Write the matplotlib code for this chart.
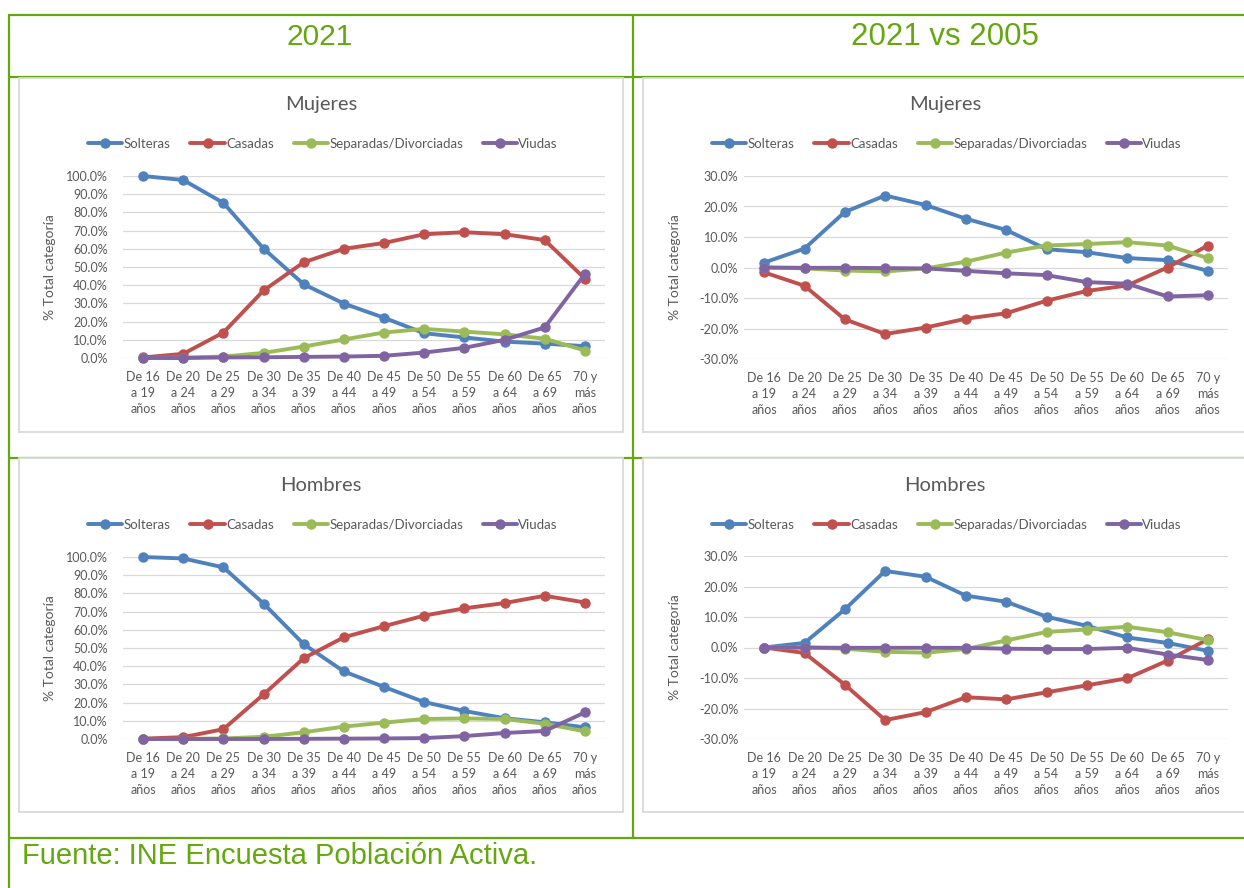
import matplotlib
matplotlib.use("Agg")
import matplotlib.pyplot as plt
from matplotlib.lines import Line2D
from matplotlib.patches import Rectangle
from matplotlib.ticker import FuncFormatter

# age groups (x axis)
edades = ["De 16\na 19\naños", "De 20\na 24\naños", "De 25\na 29\naños", "De 30\na 34\naños",
          "De 35\na 39\naños", "De 40\na 44\naños", "De 45\na 49\naños", "De 50\na 54\naños",
          "De 55\na 59\naños", "De 60\na 64\naños", "De 65\na 69\naños", "70 y\nmás\naños"]
series = ["Solteras", "Casadas", "Separadas/Divorciadas", "Viudas"]

# Mujeres 2021 (% del total de la categoría)
muj_solteras = [100.0, 97.8, 85.2, 60.1, 40.5, 29.9, 22.1, 13.6, 11.3, 9.0, 7.9, 6.5]
muj_casadas = [0.3, 2.3, 14.0, 37.1, 52.6, 60.0, 63.2, 68.0, 69.1, 68.0, 64.8, 43.6]
muj_separadas = [0.0, 0.2, 0.8, 2.8, 6.3, 10.2, 14.0, 16.0, 14.5, 13.0, 10.6, 4.1]
muj_viudas = [0.0, 0.0, 0.3, 0.4, 0.6, 0.8, 1.2, 3.0, 5.6, 10.0, 16.8, 46.2]

# Mujeres 2021 vs 2005 (diferencia en puntos)
muj_dif_solteras = [1.6, 6.2, 18.2, 23.6, 20.5, 16.0, 12.3, 6.0, 5.0, 3.1, 2.4, -1.1]
muj_dif_casadas = [-1.6, -6.0, -17.0, -21.8, -19.7, -16.8, -15.0, -10.9, -7.7, -5.9, 0.0, 7.2]
muj_dif_separadas = [0.0, -0.3, -1.0, -1.3, -0.3, 1.9, 4.9, 7.2, 7.7, 8.3, 7.2, 3.1]
muj_dif_viudas = [0.0, -0.1, -0.1, -0.2, -0.3, -1.1, -1.9, -2.5, -4.8, -5.3, -9.5, -9.1]

# Hombres 2021
hom_solteros = [100.0, 99.2, 94.3, 74.4, 52.1, 37.1, 28.6, 20.3, 15.4, 11.4, 9.2, 6.4]
hom_casados = [0.2, 1.0, 5.4, 24.5, 44.4, 55.9, 62.0, 67.8, 71.8, 74.7, 78.7, 75.0]
hom_separados = [0.0, 0.1, 0.3, 1.2, 3.7, 6.8, 9.0, 11.0, 11.3, 11.0, 8.4, 4.2]
hom_viudos = [0.0, 0.0, 0.0, 0.0, 0.1, 0.2, 0.3, 0.5, 1.6, 3.3, 4.4, 14.6]

# Hombres 2021 vs 2005
hom_dif_solteros = [0.0, 1.5, 12.5, 25.1, 23.2, 17.0, 15.0, 10.1, 7.1, 3.3, 1.5, -1.1]
hom_dif_casados = [0.0, -1.8, -12.2, -23.8, -21.2, -16.3, -17.0, -14.7, -12.4, -10.1, -4.3, 2.7]
hom_dif_separados = [0.0, 0.0, -0.4, -1.4, -1.7, -0.5, 2.3, 5.1, 5.9, 6.8, 5.0, 2.4]
hom_dif_viudos = [0.0, 0.0, -0.1, -0.1, -0.1, -0.1, -0.4, -0.5, -0.5, -0.1, -2.3, -4.1]

colores = ["#4F81BD", "#C0504D", "#9BBB59", "#8064A2"]
verde = "#64A70F"
gris_txt = "#595959"
gris_lin = "#D9D9D9"
fuente = "Lato"

W, H = 1244, 888
fig = plt.figure(figsize=(W / 100, H / 100), dpi=100)


def fx(x):
    return x / W


def fy(y):
    return 1 - y / H


def linea(x0, y0, x1, y1, color, lw, z=1):
    fig.add_artist(Line2D([fx(x0), fx(x1)], [fy(y0), fy(y1)], transform=fig.transFigure,
                          color=color, lw=lw, zorder=z, solid_capstyle="butt"))


# table borders (green)
linea(8, 15, 1260, 15, verde, 1.6)
linea(8, 77, 1260, 77, verde, 1.6)
linea(8, 457.5, 1260, 457.5, verde, 1.6)
linea(8, 838, 1260, 838, verde, 1.6)
linea(8.5, 15, 8.5, 888, verde, 1.6)
linea(633, 15, 633, 838, verde, 1.6)

# chart boxes
for (x0, y0, x1, y1) in [(19, 78, 623, 432), (643, 78, 1250, 432),
                         (19, 458, 623, 812), (643, 458, 1250, 812)]:
    fig.add_artist(Rectangle((fx(x0), fy(y1)), fx(x1 - x0), (y1 - y0) / H,
                             transform=fig.transFigure, facecolor="white",
                             edgecolor=gris_lin, lw=1.3, zorder=2))

fig.text(fx(320), fy(45), "2021", ha="center", va="baseline", color=verde,
         fontsize=21.5, family="Liberation Sans")
fig.text(fx(945), fy(45), "2021 vs 2005", ha="center", va="baseline", color=verde,
         fontsize=22.5, family="Liberation Sans")
fig.text(fx(22), fy(864), "Fuente: INE Encuesta Población Activa.", ha="left",
         va="baseline", color=verde, fontsize=21, family="Liberation Sans")


def panel(rect, datos, ymin, ymax, titulo, cx, title_y, ylab_x, tick_pad):
    x0, y0, x1, y1 = rect
    ax = fig.add_axes([fx(x0), fy(y1), fx(x1 - x0), (y1 - y0) / H], zorder=3)
    ax.patch.set_alpha(0)
    xs = list(range(len(edades)))
    for vals, nombre, c in zip(datos, series, colores):
        ax.plot(xs, vals, color=c, lw=2.8, marker="o", markersize=6.5, label=nombre,
                solid_capstyle="round", clip_on=False)
    ax.set_xlim(-0.5, len(edades) - 0.5)
    ax.set_ylim(ymin, ymax)
    ax.set_yticks(range(ymin, ymax + 1, 10))
    ax.yaxis.set_major_formatter(FuncFormatter(lambda v, p: "%.1f%%" % v))
    ax.set_xticks(xs)
    ax.set_xticklabels(edades, linespacing=1.4)
    ax.grid(axis="y", color=gris_lin, lw=0.9)
    ax.set_axisbelow(True)
    for s in ax.spines.values():
        s.set_visible(False)
    ax.tick_params(length=0, labelsize=9, labelcolor=gris_txt)
    ax.tick_params(axis="y", pad=tick_pad)
    ax.tick_params(axis="x", pad=9.5)
    for lab in ax.get_xticklabels() + ax.get_yticklabels():
        lab.set_family(fuente)
    fig.text(fx(cx), fy(title_y), titulo, ha="center", va="baseline", color=gris_txt,
             fontsize=14.5, family=fuente)
    fig.text(fx(ylab_x), fy((y0 + y1) / 2), "% Total categoría", rotation=90, ha="center",
             va="center", color=gris_txt, fontsize=10, family=fuente)
    leg = ax.legend(loc="center", bbox_to_anchor=(fx(cx + 2), fy(title_y + 34)),
                    bbox_transform=fig.transFigure, ncol=4, frameon=False, numpoints=1,
                    handlelength=2.6, handletextpad=0.1, columnspacing=1.5,
                    prop={"family": fuente, "size": 9.5})
    for t in leg.get_texts():
        t.set_color(gris_txt)
    return ax


panel((123, 176, 605, 358), [muj_solteras, muj_casadas, muj_separadas, muj_viudas],
      0, 100, "Mujeres", 321, 110, 50, 11)
panel((744, 176, 1228, 359), [muj_dif_solteras, muj_dif_casadas, muj_dif_separadas, muj_dif_viudas],
      -30, 30, "Mujeres", 945, 110, 675, 4)
panel((123, 557, 605, 739), [hom_solteros, hom_casados, hom_separados, hom_viudos],
      0, 100, "Hombres", 321, 491, 50, 11)
panel((744, 556, 1228, 739), [hom_dif_solteros, hom_dif_casados, hom_dif_separados, hom_dif_viudos],
      -30, 30, "Hombres", 945, 491, 675, 4)

fig.savefig("out.png", dpi=100)
